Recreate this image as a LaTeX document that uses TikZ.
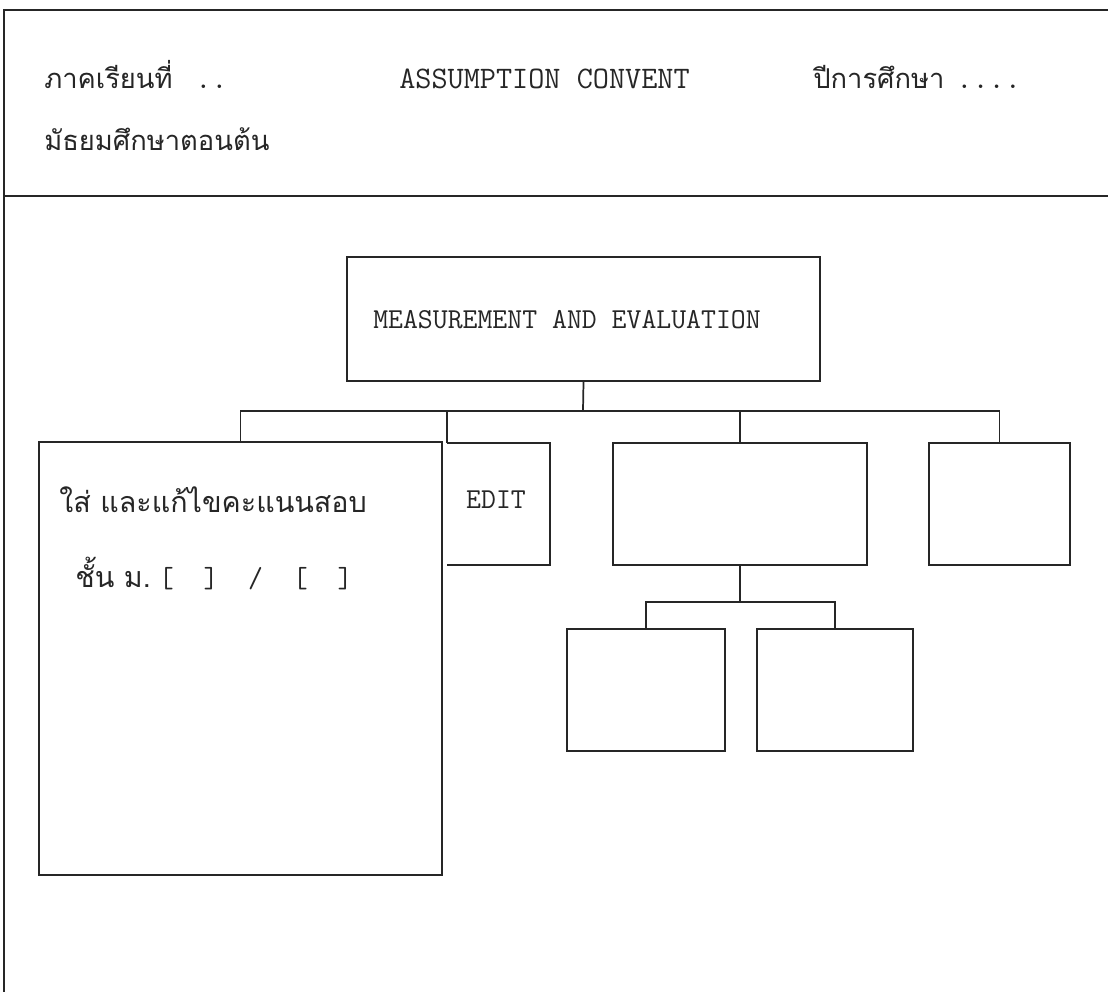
\documentclass[tikz,border=0pt]{standalone}
\usepackage{fontspec}
\newfontfamily\thaifont[Script=Thai]{Loma}
\begin{document}
\begin{tikzpicture}[x=0.75pt,y=-0.75pt,
  ln/.style={draw=black!85,line width=1.3pt},
  box/.style={ln,rectangle,inner sep=0pt},
  ttx/.style={inner sep=0pt,text=black!85,font=\fontsize{21.7}{26}\selectfont\ttfamily},
  hdt/.style={inner sep=0pt,text=black!85,font=\fontsize{23.5}{28}\selectfont\ttfamily},
  thx/.style={inner sep=0pt,text=black!85,font=\fontsize{20.5}{24}\selectfont\thaifont},
  thb/.style={inner sep=0pt,text=black!85,font=\fontsize{21.5}{26}\selectfont\thaifont}]
\useasboundingbox (0,0) rectangle (1108,992);
% frame
\coordinate (fbl) at (4,992);
\coordinate (ftl) at (4,10);
\coordinate (ftr) at (1108,10);
\coordinate (fsl) at (4,196);
\coordinate (fsr) at (1108,196);
\draw[ln] (fbl) -- (ftl) -- (ftr);
\draw[ln] (fsl) -- (fsr);
% header
\node[thx,anchor=base west] (h1) at (44,88) {ภาคเรียนที่\hspace{17pt}{\fontsize{23.5}{28}\selectfont\ttfamily ..}};
\node[hdt,anchor=base west] (h2) at (399,88) {ASSUMPTION CONVENT};
\node[thx,anchor=base west] (h3) at (813,88) {ปีการศึกษา\hspace{9pt}{\fontsize{23.5}{28}\selectfont\ttfamily ....}};
\node[thx,anchor=base west] (h4) at (44,150) {มัธยมศึกษาตอนต้น};
% boxes
\node[box,minimum width=354.75pt,minimum height=93pt] (top) at (583.5,319) {};
\node[ttx] (ttl) at (567,320) {MEASUREMENT AND EVALUATION};
\node[box,minimum width=302.25pt,minimum height=324.75pt] (big) at (240.5,658.5) {};
\node[inner sep=0pt,minimum width=77.25pt,minimum height=91.5pt] (edit) at (498.5,504) {};
\draw[ln] (edit.north west) -- (edit.north east) -- (edit.south east) -- (edit.south west);
\node[ttx] (edt) at (496,500) {EDIT};
\node[box,minimum width=190.5pt,minimum height=91.5pt] (b3) at (740,504) {};
\node[box,minimum width=105.75pt,minimum height=91.5pt] (b4) at (999.5,504) {};
\node[box,minimum width=118.5pt,minimum height=91.5pt] (b5) at (646,690) {};
\node[box,minimum width=117pt,minimum height=91.5pt] (b6) at (835,690) {};
% texts in big box
\node[thb,anchor=base west] (l1) at (59,512) {ใส่ และแก้ไขคะแนนสอบ};
\node[thb,anchor=base west] (l2) at (75,587) {ชั้น ม.\hspace{6pt}{\fontsize{21.7}{26}\selectfont\ttfamily [~~]~~/~~[~~]}};
% connectors
\coordinate (j) at (583,411);
\draw[ln] (top.south) -- (j);
\draw[ln] (big.north) -- (big.north |- j) -- (b4.north |- j) -- (b4.north);
\draw[ln] (edit.north west) -- (edit.north west |- j);
\draw[ln] (b3.north) -- (b3.north |- j);
\coordinate (s) at (740,602);
\draw[ln] (b3.south) -- (s);
\draw[ln] (b5.north) -- (b5.north |- s) -- (b6.north |- s) -- (b6.north);
\end{tikzpicture}
\end{document}
